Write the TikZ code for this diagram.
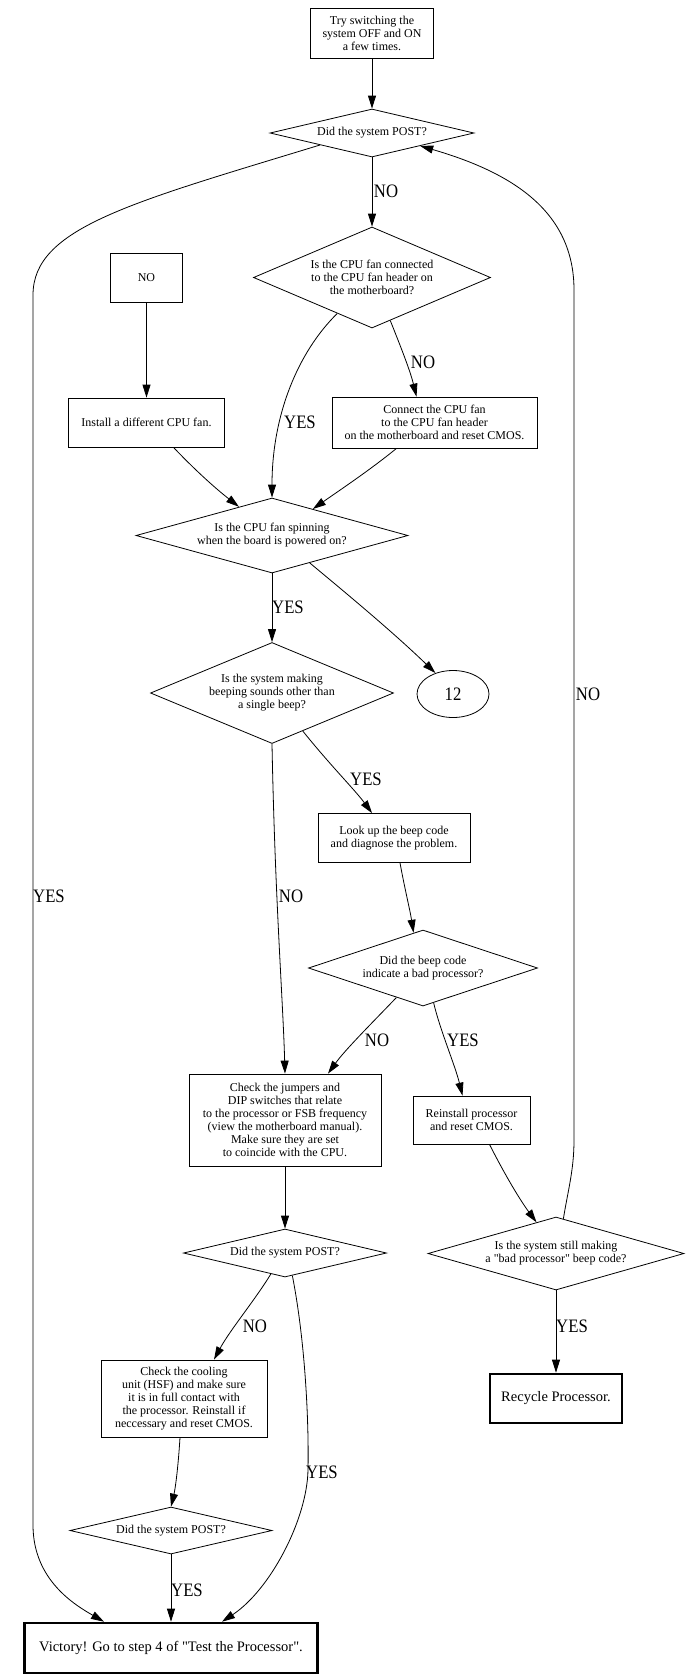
\documentclass[tikz,border=0pt]{standalone}
\usepackage{fontspec}
\setmainfont{Liberation Serif}
\newfontfamily\lblfont[FakeStretch=0.88]{Liberation Serif}
\usetikzlibrary{shapes.geometric,arrows.meta}
\begin{document}
\begin{tikzpicture}[x=1pt,y=-1pt,
  every node/.style={font=\fontsize{12}{13}\selectfont, align=center, inner sep=0pt},
  box/.style={draw, line width=0.8pt, rectangle},
  bbox/.style={draw, line width=2.6pt, rectangle, font=\fontsize{14.5}{16}\selectfont},
  dia/.style={draw, line width=0.8pt, diamond},
  lbl/.style={font=\lblfont\fontsize{19}{20}\selectfont},
  ell/.style={draw, line width=0.8pt, ellipse, font=\lblfont\fontsize{19}{20}\selectfont},
  edge/.style={line width=0.8pt, -{Triangle[length=13pt,width=8pt]}},
]
\path[fill=white] (0,0) rectangle (691,1679);
\useasboundingbox (0,0) rectangle (691,1679);

% nodes
\node[box, minimum width=123pt, minimum height=50pt] (n1) at (372,33) {Try switching the\\system OFF and ON\\a few times.};
\node[dia, minimum width=204pt, minimum height=48pt, aspect=4.25] (d1) at (372,133) {Did the system POST?};
\node[dia, minimum width=237pt, minimum height=101pt, aspect=2.35] (d2) at (372,277.5) {Is the CPU fan connected\\to the CPU fan header on\\the motherboard?};
\node[box, minimum width=72pt, minimum height=49pt] (nobox) at (146.5,277.5) {NO};
\node[box, minimum width=156pt, minimum height=49pt] (install) at (146.5,422.5) {Install a different CPU fan.};
\node[box, minimum width=205pt, minimum height=51pt] (connect) at (434.5,422.5) {Connect the CPU fan\\to the CPU fan header\\on the motherboard and reset CMOS.};
\node[dia, minimum width=272pt, minimum height=75pt, aspect=3.63] (d3) at (272,535.5) {Is the CPU fan spinning\\when the board is powered on?};
\node[dia, minimum width=243pt, minimum height=101pt, aspect=2.41] (d4) at (272,693) {Is the system making\\beeping sounds other than\\a single beep?};
\node[ell, minimum width=72pt, minimum height=47pt] (e12) at (453,694) {12};
\node[box, minimum width=152pt, minimum height=49pt] (lookup) at (394,838) {Look up the beep code\\and diagnose the problem.};
\node[dia, minimum width=229pt, minimum height=76pt, aspect=3.01] (d5) at (423,968) {Did the beep code\\indicate a bad processor?};
\node[box, minimum width=192pt, minimum height=92pt] (cj) at (285,1120) {Check the jumpers and\\DIP switches that relate\\to the processor or FSB frequency\\(view the motherboard manual).\\Make sure they are set\\to coincide with the CPU.};
\node[box, minimum width=117pt, minimum height=48pt] (reinstall) at (471.5,1120) {Reinstall processor\\and reset CMOS.};
\node[dia, minimum width=203pt, minimum height=48pt, aspect=4.23] (d6) at (285,1253) {Did the system POST?};
\node[dia, minimum width=256pt, minimum height=73pt, aspect=3.5] (d7) at (556,1253.5) {Is the system still making\\a \textquotedbl bad processor\textquotedbl{} beep code?};
\node[box, minimum width=166pt, minimum height=77pt] (cc) at (184,1398.5) {Check the cooling\\unit (HSF) and make sure\\it is in full contact with\\the processor. Reinstall if\\neccessary and reset CMOS.};
\node[bbox, minimum width=132pt, minimum height=49pt] (recycle) at (556,1398.5) {Recycle Processor.};
\node[dia, minimum width=202pt, minimum height=47pt, aspect=4.3] (d8) at (171,1530.5) {Did the system POST?};
\node[bbox, minimum width=293pt, minimum height=50pt] (vic) at (171,1648) {Victory! Go to step 4 of \textquotedbl Test the Processor\textquotedbl.};

% connectors
\draw[edge] (n1) -- (d1);
\draw[edge] (d1) -- (d2);
\draw[edge] (d1.-167) .. controls (130,203) and (33,228) .. (33,295) -- (33,1525) .. controls (33,1580) and (75,1605) .. ([xshift=-67pt]vic.north);
\draw[edge] (d7.78) .. controls (568,1190) and (574,1170) .. (574,1140) -- (574,290) .. controls (574,210) and (510,172) .. (d1.-15);
\draw[edge] (nobox) -- (install);
\draw[edge] (d2.-134) .. controls (298,352) and (272,415) .. (d3.north);
\draw[edge] (d2.-67) .. controls (400,345) and (410,370) .. ([xshift=-18pt]connect.north);
\draw[edge] ([xshift=27pt]install.south) .. controls (195,470) and (215,488) .. (d3.139);
\draw[edge] ([xshift=-38pt]connect.south) .. controls (370,470) and (340,490) .. (d3.33);
\draw[edge] (d3) -- (d4);
\draw[edge] (d3.-36) .. controls (352,598) and (395,634) .. (e12.130);
\draw[edge] (d4.-51) .. controls (330,765) and (355,790) .. ([xshift=-22pt]lookup.north);
\draw[edge] (d4.south) .. controls (275,900) and (283,1000) .. (cj.north);
\draw[edge] ([xshift=6pt]lookup.south) .. controls (405,890) and (410,910) .. (d5.105);
\draw[edge] (d5.-132) .. controls (370,1025) and (345,1050) .. ([xshift=43pt]cj.north);
\draw[edge] (d5.-73) .. controls (440,1030) and (455,1065) .. ([xshift=-9pt]reinstall.north);
\draw[edge] (cj) -- (d6);
\draw[edge] ([xshift=18pt]reinstall.south) .. controls (505,1175) and (520,1200) .. (d7.122);
\draw[edge] (d7) -- (recycle);
\draw[edge] (d6.-124) .. controls (255,1300) and (230,1330) .. ([xshift=30pt]cc.north);
\draw[edge] (d6.-72) .. controls (305,1340) and (309,1420) .. (308,1470) .. controls (307,1520) and (270,1590) .. ([xshift=51pt]vic.north);
\draw[edge] ([xshift=-4pt]cc.south) .. controls (178,1470) and (175,1490) .. (d8.north);
\draw[edge] (d8) -- (vic);

% labels
\node[lbl] (l1) at (386,191) {NO};
\node[lbl] (l2) at (49,896) {YES};
\node[lbl] (l3) at (588,694) {NO};
\node[lbl] (l4) at (300,422) {YES};
\node[lbl] (l5) at (423,362) {NO};
\node[lbl] (l6) at (288,607) {YES};
\node[lbl] (l7) at (366,779) {YES};
\node[lbl] (l8) at (291,896) {NO};
\node[lbl] (l9) at (377,1040) {NO};
\node[lbl] (l10) at (463,1040) {YES};
\node[lbl] (l11) at (572,1326) {YES};
\node[lbl] (l12) at (255,1326) {NO};
\node[lbl] (l13) at (322,1472) {YES};
\node[lbl] (l14) at (187,1590) {YES};
\end{tikzpicture}
\end{document}
